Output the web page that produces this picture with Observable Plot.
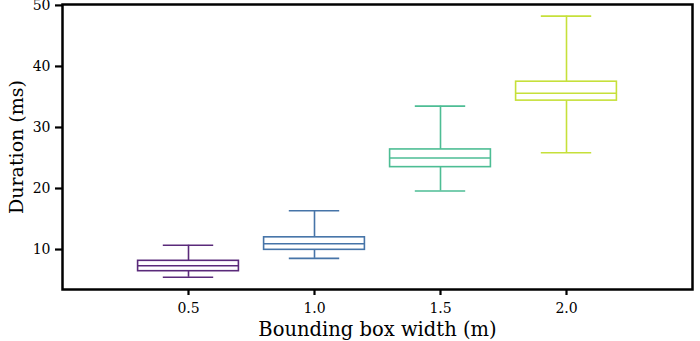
<!DOCTYPE html>
<html>
<head>
<meta charset="utf-8">
<script src="https://cdn.jsdelivr.net/npm/d3@7"></script>
<script src="https://cdn.jsdelivr.net/npm/@observablehq/plot@0.6"></script>
<style>
  html, body { margin: 0; padding: 0; background: #fff; }
  #chart svg { display: block; }
</style>
</head>
<body>
<div id="chart"></div>
<script>
const widths     = [0.5, 1.0, 1.5, 2.0];
const whiskerLo  = [5.45, 8.55, 19.6, 25.85];
const q1         = [6.45, 9.95, 23.5, 34.4];
const medians    = [7.35, 10.95, 25.0, 35.6];
const q3         = [8.15, 12.0, 26.4, 37.5];
const whiskerHi  = [10.7, 16.35, 33.5, 48.25];
const colors     = ["#5a2a7a", "#4674a8", "#4dbd94", "#c6e03a"];
const xTicks     = [0.5, 1.0, 1.5, 2.0];
const yTicks     = [10, 20, 30, 40, 50];

const boxHalf = 0.2, capHalf = 0.1;
const rows = widths.map((w, i) => ({
  w, lo: whiskerLo[i], q1: q1[i], med: medians[i], q3: q3[i], hi: whiskerHi[i], c: colors[i]
}));

const chart = Plot.plot({
  width: 700,
  height: 341,
  marginLeft: 62,
  marginRight: 8,
  marginTop: 4,
  marginBottom: 52,
  style: { fontFamily: "'DejaVu Serif', serif", fontSize: "14px", color: "#000", background: "#fff" },
  x: { domain: [0, 2.5], ticks: xTicks, tickFormat: d3.format(".1f") },
  y: { domain: [3.45, 50.15], ticks: yTicks },
  marks: [
    // whiskers
    Plot.ruleX(rows, { x: "w", y1: "lo", y2: "q1", stroke: "c", strokeWidth: 1.6 }),
    Plot.ruleX(rows, { x: "w", y1: "q3", y2: "hi", stroke: "c", strokeWidth: 1.6 }),
    // caps
    Plot.ruleY(rows, { y: "lo", x1: d => d.w - capHalf, x2: d => d.w + capHalf, stroke: "c", strokeWidth: 1.6 }),
    Plot.ruleY(rows, { y: "hi", x1: d => d.w - capHalf, x2: d => d.w + capHalf, stroke: "c", strokeWidth: 1.6 }),
    // boxes
    Plot.rect(rows, { x1: d => d.w - boxHalf, x2: d => d.w + boxHalf, y1: "q1", y2: "q3", fill: "white", stroke: "c", strokeWidth: 1.6 }),
    // medians
    Plot.ruleY(rows, { y: "med", x1: d => d.w - boxHalf, x2: d => d.w + boxHalf, stroke: "c", strokeWidth: 1.6 }),
    Plot.frame({ stroke: "black", strokeWidth: 2.5 }),
    Plot.axisX({ ticks: xTicks, tickFormat: d3.format(".1f"), tickSize: 6, tickPadding: 8, strokeWidth: 2.2, label: null }),
    Plot.axisY({ ticks: yTicks, tickSize: 7, tickPadding: 5, strokeWidth: 2.2, label: null }),
    Plot.text(["Bounding box width (m)"], { frameAnchor: "bottom", fontSize: 19.5, lineAnchor: "middle", dy: 40 }),
    Plot.text(["Duration (ms)"], { frameAnchor: "left", textAnchor: "middle", dx: -46, rotate: -90, fontSize: 19 })
  ]
});
document.getElementById("chart").appendChild(chart);
</script>
</body>
</html>
